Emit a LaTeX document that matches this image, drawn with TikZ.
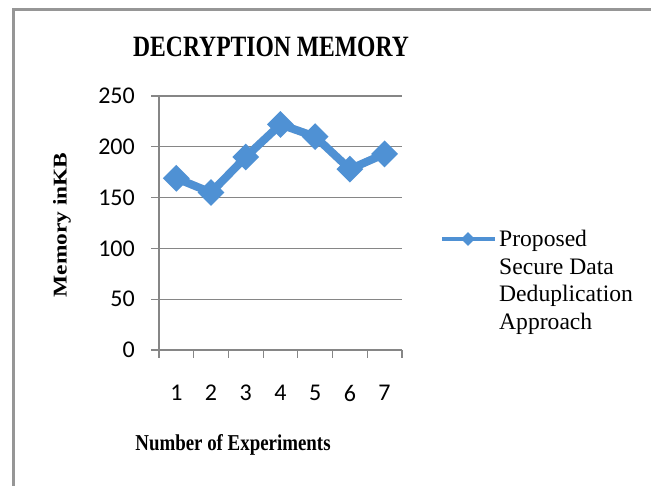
\documentclass[tikz,border=0pt]{standalone}
\usepackage{fontspec}
\setmainfont{Liberation Serif}
\newfontfamily\calibri{Carlito}
\usetikzlibrary{shapes.geometric,positioning}
\definecolor{seriesblue}{RGB}{79,145,212}
\definecolor{framegray}{RGB}{150,150,150}
\definecolor{gridgray}{RGB}{134,134,134}
\newcommand{\tall}[2][1.2]{\scalebox{1}[#1]{#2}}

\begin{document}
\begin{tikzpicture}[x=1pt, y=-1pt,
    grid/.style={gridgray, line width=1.2pt},
    marker/.style={diamond, fill=seriesblue, inner sep=0pt, minimum size=27pt},
    ticklabel/.style={font=\calibri\fontsize{24}{24}\selectfont, inner sep=0pt},
    series/.style={seriesblue, line width=8pt, line join=round},
]
    \useasboundingbox (0,0) rectangle (651,486);
    % Frame
    \draw[framegray, line width=3pt] (13,486) -- (13,10) -- (651,10);

    % Title
    \node (title) at (271,47) {\fontsize{23.6}{24}\selectfont\bfseries\tall[1.25]{DECRYPTION MEMORY}};

    % Grid lines and value labels
    \foreach \v [count=\k from 0] in {0,50,...,250} {
        \draw[grid] (151,350-50.8*\k) -- (402,350-50.8*\k);
        \node[ticklabel, anchor=east] (ylab\k) at (135,350-50.8*\k) {\v};
    }
    \draw[grid] (159,96) -- (159,350);

    % Category ticks and labels
    \foreach \k in {0,...,7}
        \draw[grid] (159+34.7*\k,350) -- (159+34.7*\k,358);
    \foreach \k in {1,...,7}
        \node[ticklabel] (xlab\k) at (141.65+34.7*\k,393) {\k};

    % Axis titles
    \node (xtitle) at (233,445) {\fontsize{18.9}{20}\selectfont\bfseries\tall{Number of Experiments}};
    \node[rotate=90] (ytitle) at (62,225) {\fontsize{19.5}{20}\selectfont\bfseries\scalebox{1.2}[1]{Memory inKB}};

    % Data points
    \foreach \v [count=\k] in {169,155,190,222,210,178,193}
        \coordinate (c\k) at (141.65+34.7*\k,350-1.016*\v);

    % Shadow and series line
    \draw[series, black, opacity=0.15, xshift=2pt, yshift=-3pt]
        (c1) -- (c2) -- (c3) -- (c4) -- (c5) -- (c6) -- (c7);
    \draw[series] (c1) -- (c2) -- (c3) -- (c4) -- (c5) -- (c6) -- (c7);
    \foreach \k in {1,...,7}
        \node[marker] (m\k) at (c\k) {};

    % Legend
    \coordinate (legA) at (442,239);
    \coordinate (legB) at (495,239);
    \draw[seriesblue, line width=4pt] (legA) -- (legB);
    \node[marker, minimum size=14pt] (legmark) at (468,239) {};
    \node[anchor=north west, align=left, inner sep=0pt,
          font=\fontsize{23.6}{27.5}\selectfont] (legtext) at (499,230)
        {Proposed\\Secure Data\\Deduplication\\Approach};
\end{tikzpicture}
\end{document}
